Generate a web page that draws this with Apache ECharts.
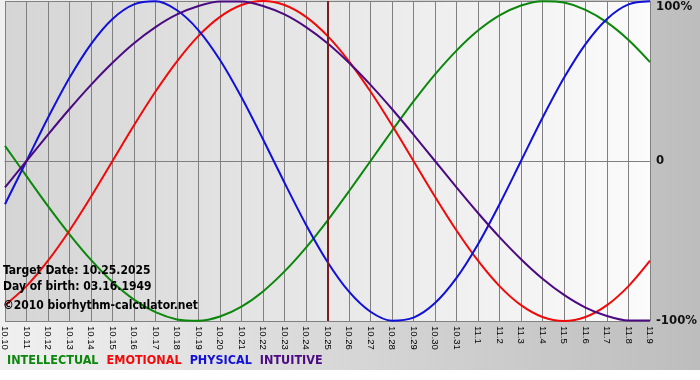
<!DOCTYPE html>
<html>
<head>
<meta charset="utf-8">
<title>Biorhythm</title>
<script src="https://cdn.jsdelivr.net/npm/echarts@6/dist/echarts.min.js"></script>
<style>
  html, body { margin: 0; padding: 0; background: #fff; }
  #chart { width: 700px; height: 380px; }
</style>
</head>
<body>
<div id="chart"></div>
<script>
// days shown, 10.10 .. 11.9
const days = [
  '10.10', '10.11', '10.12', '10.13', '10.14', '10.15', '10.16', '10.17', '10.18', '10.19',
  '10.20', '10.21', '10.22', '10.23', '10.24', '10.25', '10.26', '10.27', '10.28', '10.29',
  '10.30', '10.31', '11.1', '11.2', '11.3', '11.4', '11.5', '11.6', '11.7', '11.8', '11.9'
];

// values in percent
const intellectual = [
  9.5, -9.5, -28.2, -45.8, -61.8, -75.6, -86.6, -94.5, -99.0, -99.9,
  -97.2, -91.0, -81.5, -69.0, -54.1, -37.2, -18.9, 0, 18.9, 37.2,
  54.1, 69.0, 81.5, 91.0, 97.2, 99.9, 99.0, 94.5, 86.6, 75.6, 61.8
];
const emotional = [
  -90.1, -78.2, -62.3, -43.4, -22.3, 0, 22.3, 43.4, 62.3, 78.2,
  90.1, 97.5, 100, 97.5, 90.1, 78.2, 62.3, 43.4, 22.3, 0,
  -22.3, -43.4, -62.3, -78.2, -90.1, -97.5, -100, -97.5, -90.1, -78.2, -62.3
];
const physical = [
  -27.0, 0, 27.0, 52.0, 73.1, 88.8, 97.9, 99.8, 94.2, 81.7,
  63.1, 39.8, 13.6, -13.6, -39.8, -63.1, -81.7, -94.2, -99.8, -97.9,
  -88.8, -73.1, -52.0, -27.0, 0, 27.0, 52.0, 73.1, 88.8, 97.9, 99.8
];
const intuitive = [
  -16.5, 0, 16.5, 32.5, 47.6, 61.4, 73.6, 83.7, 91.6, 96.9,
  99.7, 99.7, 96.9, 91.6, 83.7, 73.6, 61.4, 47.6, 32.5, 16.5,
  0, -16.5, -32.5, -47.6, -61.4, -73.6, -83.7, -91.6, -96.9, -99.7, -99.7
];

const targetDay = '10.25';
const infoLines = ['Target Date: 10.25.2025', 'Day of birth: 03.16.1949', '\u00a92010 biorhythm-calculator.net'];

const colors = {
  INTELLECTUAL: '#0b870b',
  EMOTIONAL: '#f00a0a',
  PHYSICAL: '#1010d8',
  INTUITIVE: '#4b0a82'
};

const boldFont = '"DejaVu Sans Condensed", "DejaVu Sans", sans-serif';

const chart = echarts.init(document.getElementById('chart'), null, { renderer: 'canvas' });

function makeSeries(name, values) {
  return {
    name: name,
    type: 'line',
    data: values,
    smooth: 0.3,
    symbol: 'none',
    lineStyle: { color: colors[name], width: 2 },
    itemStyle: { color: colors[name] }
  };
}

const series = [
  makeSeries('INTELLECTUAL', intellectual),
  makeSeries('EMOTIONAL', emotional),
  makeSeries('PHYSICAL', physical),
  makeSeries('INTUITIVE', intuitive)
];

// vertical line on the target date
series[0].markLine = {
  silent: true,
  symbol: 'none',
  label: { show: false },
  lineStyle: { color: '#7c1c1c', width: 2, type: 'solid' },
  data: [{ xAxis: targetDay }]
};

const option = {
  animation: false,
  backgroundColor: {
    type: 'linear', x: 0, y: 0, x2: 1, y2: 0,
    colorStops: [
      { offset: 0, color: '#f0f0f0' },
      { offset: 1, color: '#bdbdbd' }
    ]
  },
  textStyle: { fontFamily: '"Liberation Sans", Arial, sans-serif' },
  grid: {
    left: 1,
    right: 49,
    top: 1,
    bottom: 59,
    show: true,
    borderWidth: 0,
    backgroundColor: {
      type: 'linear', x: 0, y: 0, x2: 1, y2: 0,
      colorStops: [
        { offset: 0, color: '#d5d5d5' },
        { offset: 1, color: '#fbfbfb' }
      ]
    }
  },
  legend: {
    left: 2,
    top: 354,
    padding: 0,
    itemWidth: 0,
    itemHeight: 0,
    itemGap: 3,
    selectedMode: false,
    data: Object.keys(colors).map(name => ({
      name: name,
      icon: 'rect',
      textStyle: { color: colors[name] }
    })),
    textStyle: { fontFamily: boldFont, fontWeight: 'bold', fontSize: 12.5 }
  },
  xAxis: {
    type: 'category',
    data: days,
    boundaryGap: false,
    axisLine: { lineStyle: { color: '#808080', width: 1 } },
    axisTick: { show: true, length: 5, interval: 0, lineStyle: { color: '#808080' } },
    axisLabel: {
      interval: 0,
      rotate: -90,
      margin: 5,
      fontSize: 9.5,
      color: '#000'
    },
    splitLine: { show: true, interval: 0, lineStyle: { color: '#808080', width: 1 } }
  },
  yAxis: {
    type: 'value',
    position: 'right',
    min: -100,
    max: 100,
    interval: 100,
    axisLine: { show: false },
    axisTick: { show: false },
    axisLabel: {
      margin: 6,
      color: '#111',
      fontFamily: boldFont,
      fontWeight: 'bold',
      fontSize: 13,
      formatter: v => (v === 100 ? '{top|100%}' : v === 0 ? '0' : v + '%'),
      rich: {
        top: { padding: [11, 0, 0, 0], fontFamily: boldFont, fontWeight: 'bold', fontSize: 13, color: '#111' }
      }
    },
    splitLine: { show: true, lineStyle: { color: '#808080', width: 1 } }
  },
  graphic: [
    {
      type: 'rect',
      left: 0,
      top: 370,
      shape: { width: 700, height: 10 },
      style: { fill: '#ffffff' },
      silent: true
    },
    ...infoLines.map((line, i) => ({
      type: 'text',
      left: 3,
      top: [265, 281, 300][i],
      z: 100,
      silent: true,
      style: {
        text: line,
        fill: '#000',
        font: 'bold 12px ' + boldFont
      }
    }))
  ],
  series: series
};

chart.setOption(option);
</script>
</body>
</html>
